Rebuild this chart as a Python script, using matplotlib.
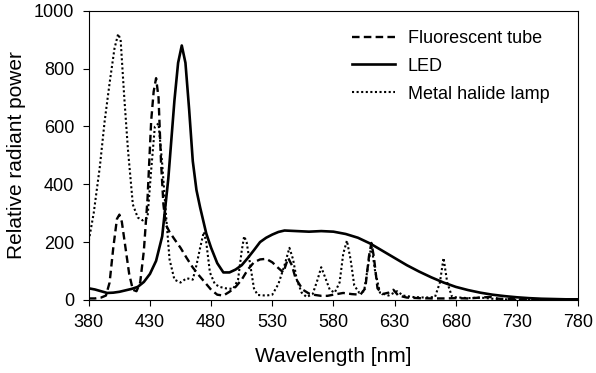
import matplotlib.pyplot as plt

plt.rcParams["font.family"] = ["Liberation Sans", "DejaVu Sans"]

# fluorescent tube
fl_wl = [380, 385, 390, 394, 397, 400, 403, 405, 407, 410, 413, 416, 419, 422, 425,
         428, 431, 433, 435, 437, 439, 441, 443, 446, 450, 455, 460, 465, 470, 476,
         480, 485, 490, 495, 500, 505, 510, 515, 520, 525, 530, 535, 539, 543, 546,
         549, 555, 560, 565, 570, 575, 580, 588, 595, 602, 606, 609, 611, 613, 616,
         620, 625, 629, 633, 640, 650, 660, 670, 680, 690, 700, 708, 715, 730, 780]
fl_pw = [5, 5, 8, 15, 60, 180, 280, 295, 270, 180, 90, 35, 30, 60, 170,
         350, 620, 720, 767, 700, 480, 330, 260, 235, 210, 180, 145, 112, 85, 55,
         35, 18, 15, 28, 45, 70, 105, 130, 140, 142, 130, 110, 95, 145, 120,
         75, 35, 22, 17, 14, 14, 18, 24, 20, 18, 40, 150, 197, 150, 40,
         20, 25, 35, 15, 8, 6, 5, 5, 6, 5, 8, 10, 4, 2, 1]

# LED
led_wl = [380, 385, 390, 395, 400, 405, 410, 415, 420, 425, 430, 435, 440, 445, 450,
          453, 456, 459, 462, 465, 468, 471, 476, 480, 485, 490, 495, 500, 505, 510,
          515, 520, 525, 530, 535, 540, 550, 560, 570, 580, 590, 600, 610, 620, 630,
          640, 650, 660, 670, 680, 690, 700, 710, 720, 730, 740, 750, 760, 770, 780]
led_pw = [40, 36, 30, 24, 25, 28, 33, 38, 45, 62, 90, 135, 220, 420, 690,
          820, 880, 820, 660, 480, 380, 320, 230, 180, 127, 95, 95, 105, 120, 145,
          172, 200, 215, 226, 235, 240, 238, 236, 238, 236, 228, 215, 195, 170, 145,
          120, 98, 78, 60, 45, 34, 25, 18, 13, 9, 6, 4, 3, 2, 2]

# metal halide lamp
mh_wl = [380, 384, 389, 393, 397, 401, 404, 406, 409, 412, 416, 420, 424, 428, 431,
         434, 437, 440, 443, 446, 450, 455, 460, 465, 468, 471, 474, 476, 479, 483,
         487, 492, 498, 502, 505, 507, 509, 512, 515, 518, 525, 530, 535, 540, 544,
         547, 550, 554, 558, 563, 567, 570, 573, 577, 581, 585, 588, 591, 594, 597,
         601, 605, 608, 611, 614, 618, 625, 632, 637, 645, 655, 663, 667, 670, 673,
         677, 690, 700, 710, 720, 730, 780]
mh_pw = [205, 300, 460, 620, 750, 870, 920, 900, 700, 520, 330, 285, 275, 285, 450,
         600, 610, 470, 300, 140, 70, 60, 75, 70, 120, 180, 235, 200, 95, 55,
         45, 40, 38, 70, 170, 220, 200, 120, 40, 17, 15, 18, 55, 120, 180,
         140, 70, 25, 10, 20, 70, 113, 80, 35, 25, 60, 160, 205, 140, 50,
         25, 30, 110, 190, 100, 25, 15, 30, 15, 10, 8, 10, 60, 145, 60,
         10, 6, 8, 4, 2, 0, 0]

fig = plt.figure(figsize=(5.96, 3.73), dpi=100)
ax = fig.add_axes([0.149, 0.196, 0.821, 0.775])

ax.plot(fl_wl, fl_pw, color="black", lw=1.7, linestyle=(0, (3.2, 1.8)),
        label="Fluorescent tube")
ax.plot(led_wl, led_pw, color="black", lw=1.9, label="LED")
ax.plot(mh_wl, mh_pw, color="black", lw=1.5, linestyle=(0, (1, 1.2)),
        label="Metal halide lamp")

ax.set_xlim(380, 780)
ax.set_ylim(0, 1000)
ax.set_xticks(range(380, 781, 50))
ax.set_yticks(range(0, 1001, 200))
ax.tick_params(labelsize=13, length=4, width=0.8, direction="out", pad=6.5)
for s in ax.spines.values():
    s.set_linewidth(0.8)

ax.set_xlabel("Wavelength [nm]", fontsize=15, labelpad=11)
ax.set_ylabel("Relative radiant power", fontsize=15, labelpad=6)

ax.legend(loc="upper left", bbox_to_anchor=(0.504, 0.99), frameon=False,
          fontsize=13, handlelength=2.4, handletextpad=0.7, labelspacing=0.6)

fig.savefig("out.png", dpi=100)
